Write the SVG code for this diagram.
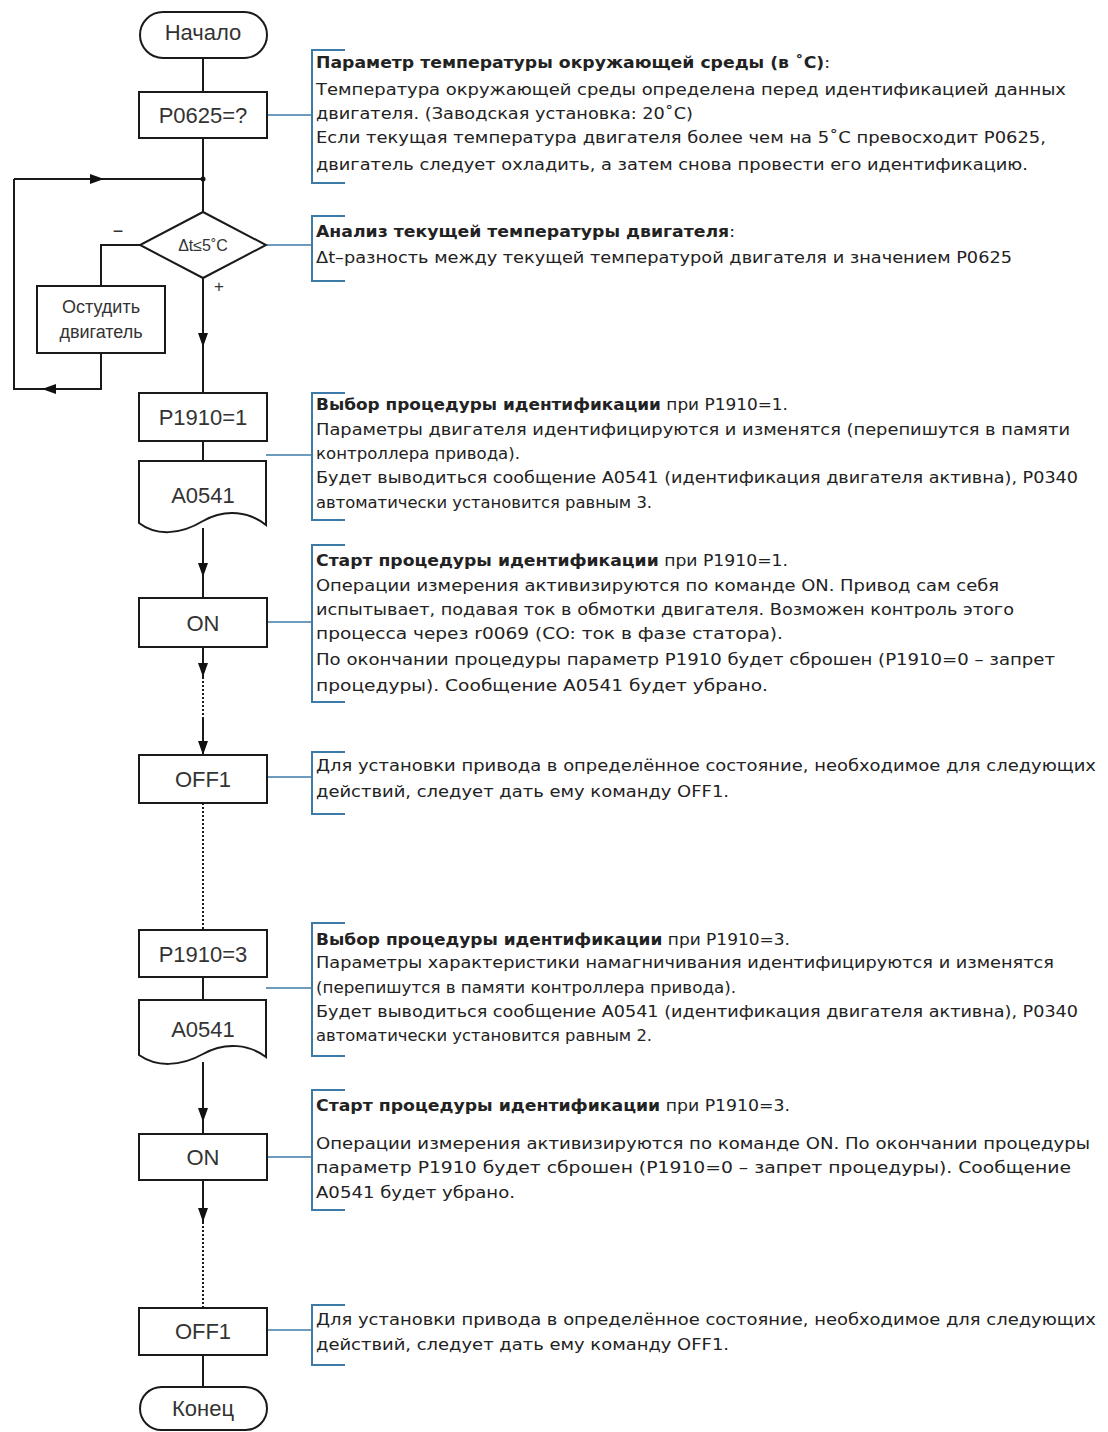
<svg xmlns="http://www.w3.org/2000/svg" width="1108" height="1432" viewBox="0 0 1108 1432">
<defs>
<marker id="arr" markerUnits="userSpaceOnUse" viewBox="0 0 14 10" refX="14" refY="5" markerWidth="14" markerHeight="10" orient="auto">
<path d="M0,0 L14,5 L0,10 Z" fill="#111"/>
</marker>
<style>
.box{fill:#fff;stroke:#1a1a1a;stroke-width:2}
.ln{fill:none;stroke:#1a1a1a;stroke-width:2}
.dot{fill:none;stroke:#1a1a1a;stroke-width:2;stroke-dasharray:2 2}
.lbl{font-family:"Liberation Sans",Arial,sans-serif;font-size:22px;fill:#333;text-anchor:middle}
.sm{font-size:18px}
.br{fill:none;stroke:#3c7aa8;stroke-width:2}
.cl{fill:none;stroke:#3c7aa8;stroke-width:1.5}
.t{font-family:"DejaVu Sans",Verdana,sans-serif;font-size:15px;fill:#222}
.b{font-weight:bold}
</style>
</defs>
<rect width="1108" height="1432" fill="#fff"/>

<g id="connectors">
<path class="ln" d="M203,58 V92"/>
<path class="ln" d="M203,138 V212"/>
<path class="ln" d="M14,179 H104" marker-end="url(#arr)"/>
<path class="ln" d="M104,179 H203"/>
<circle cx="203" cy="179" r="2.5" fill="#111"/>
<path class="ln" d="M140,245 H101 V286"/>
<path class="ln" d="M101,353 V389 H42" marker-end="url(#arr)"/>
<path class="ln" d="M42,389 H14 V179"/>
<path class="ln" d="M203,278 V347" marker-end="url(#arr)"/>
<path class="ln" d="M203,347 V393"/>
<path class="ln" d="M203,441 V461"/>
<path class="ln" d="M203,528 V577" marker-end="url(#arr)"/>
<path class="ln" d="M203,577 V598"/>
<path class="ln" d="M203,647 V677" marker-end="url(#arr)"/>
<path class="dot" d="M203,677 V717"/>
<path class="ln" d="M203,717 V755" marker-end="url(#arr)"/>
<path class="dot" d="M203,803 V930"/>
<path class="ln" d="M203,977 V1000"/>
<path class="ln" d="M203,1062 V1122" marker-end="url(#arr)"/>
<path class="ln" d="M203,1122 V1134"/>
<path class="ln" d="M203,1180 V1222" marker-end="url(#arr)"/>
<path class="dot" d="M203,1222 V1308"/>
<path class="ln" d="M203,1355 V1387"/>
<text class="lbl" x="118" y="237" style="font-size:18px">−</text>
<text class="lbl" x="219" y="292" style="font-size:17px">+</text>
<path class="cl" d="M267,115 H312"/>
<path class="cl" d="M267,245 H312"/>
<path class="cl" d="M266,455 H312"/>
<path class="cl" d="M267,622 H312"/>
<path class="cl" d="M267,777 H312"/>
<path class="cl" d="M266,988 H312"/>
<path class="cl" d="M267,1157 H312"/>
<path class="cl" d="M267,1330 H312"/>
</g>

<g id="start"><rect class="box" x="140" y="12" width="127" height="46" rx="23"/><text class="lbl" x="203" y="40">Начало</text></g>
<g id="p0625"><rect class="box" x="139" y="92" width="128" height="46"/><text class="lbl" x="203" y="123">P0625=?</text></g>
<g id="decision"><polygon class="box" points="203,212 266,245 203,278 140,245"/><text class="lbl" x="203" y="251" style="font-size:16px">Δt≤5˚C</text></g>
<g id="cool"><rect class="box" x="37" y="286" width="128" height="67"/><text class="lbl sm" x="101" y="313">Остудить</text><text class="lbl sm" x="101" y="338">двигатель</text></g>
<g id="p1910_1"><rect class="box" x="139" y="393" width="128" height="48"/><text class="lbl" x="203" y="425">P1910=1</text></g>
<g id="a0541_1"><path class="box" d="M139,461 H266 V525 C250,512 226,508 203,521 C180,535 156,536 139,523 Z"/><text class="lbl" x="203" y="503">A0541</text></g>
<g id="on1"><rect class="box" x="139" y="598" width="128" height="49"/><text class="lbl" x="203" y="631">ON</text></g>
<g id="off1_1"><rect class="box" x="139" y="755" width="128" height="48"/><text class="lbl" x="203" y="787">OFF1</text></g>
<g id="p1910_3"><rect class="box" x="139" y="930" width="128" height="47"/><text class="lbl" x="203" y="962">P1910=3</text></g>
<g id="a0541_2"><path class="box" d="M139,1000 H266 V1057 C250,1045 226,1041 203,1054 C180,1067 156,1067 139,1055 Z"/><text class="lbl" x="203" y="1037">A0541</text></g>
<g id="on2"><rect class="box" x="139" y="1134" width="128" height="46"/><text class="lbl" x="203" y="1165">ON</text></g>
<g id="off1_2"><rect class="box" x="139" y="1308" width="128" height="47"/><text class="lbl" x="203" y="1339">OFF1</text></g>
<g id="end"><rect class="box" x="140" y="1387" width="127" height="43" rx="21.5"/><text class="lbl" x="203" y="1416">Конец</text></g>

<g id="note1">
<path class="br" d="M345,50 H312 V183 H345"/>
<text class="t" x="316" y="68" textLength="514" lengthAdjust="spacingAndGlyphs"><tspan class="b">Параметр температуры окружающей среды (в ˚C)</tspan>:</text>
<text class="t" x="316" y="95" textLength="750" lengthAdjust="spacingAndGlyphs">Температура  окружающей среды определена перед идентификацией данных</text>
<text class="t" x="316" y="119" textLength="377" lengthAdjust="spacingAndGlyphs">двигателя. (Заводская установка: 20˚C)</text>
<text class="t" x="316" y="143" textLength="730" lengthAdjust="spacingAndGlyphs">Если текущая температура двигателя более чем на 5˚C превосходит P0625,</text>
<text class="t" x="316" y="170" textLength="712" lengthAdjust="spacingAndGlyphs">двигатель следует охладить, а затем снова провести его идентификацию.</text>
</g>
<g id="note2">
<path class="br" d="M345,216 H312 V281 H345"/>
<text class="t" x="316" y="237" textLength="419" lengthAdjust="spacingAndGlyphs"><tspan class="b">Анализ текущей температуры двигателя</tspan>:</text>
<text class="t" x="316" y="263" textLength="696" lengthAdjust="spacingAndGlyphs">Δt–разность между текущей температурой двигателя и значением P0625</text>
</g>
<g id="note3">
<path class="br" d="M345,393 H312 V520 H345"/>
<text class="t" x="316" y="410" textLength="472" lengthAdjust="spacingAndGlyphs"><tspan class="b">Выбор процедуры идентификации</tspan> при P1910=1.</text>
<text class="t" x="316" y="435" textLength="754" lengthAdjust="spacingAndGlyphs">Параметры двигателя идентифицируются и изменятся (перепишутся в памяти</text>
<text class="t" x="316" y="459" textLength="204" lengthAdjust="spacingAndGlyphs">контроллера привода).</text>
<text class="t" x="316" y="483" textLength="762" lengthAdjust="spacingAndGlyphs">Будет выводиться сообщение A0541 (идентификация двигателя активна), P0340</text>
<text class="t" x="316" y="508" textLength="336" lengthAdjust="spacingAndGlyphs">автоматически установится равным 3.</text>
</g>
<g id="note4">
<path class="br" d="M345,545 H312 V702 H345"/>
<text class="t" x="316" y="566" textLength="472" lengthAdjust="spacingAndGlyphs"><tspan class="b">Старт процедуры идентификации</tspan> при P1910=1.</text>
<text class="t" x="316" y="591" textLength="683" lengthAdjust="spacingAndGlyphs">Операции измерения активизируются по команде ON. Привод сам себя</text>
<text class="t" x="316" y="615" textLength="698" lengthAdjust="spacingAndGlyphs">испытывает, подавая ток в обмотки двигателя. Возможен контроль этого</text>
<text class="t" x="316" y="639" textLength="467" lengthAdjust="spacingAndGlyphs">процесса через r0069 (CO: ток в фазе статора).</text>
<text class="t" x="316" y="665" textLength="739" lengthAdjust="spacingAndGlyphs">По окончании процедуры параметр P1910 будет сброшен (P1910=0 – запрет</text>
<text class="t" x="316" y="691" textLength="452" lengthAdjust="spacingAndGlyphs">процедуры). Сообщение A0541 будет убрано.</text>
</g>
<g id="note5">
<path class="br" d="M345,752 H312 V814 H345"/>
<text class="t" x="316" y="771" textLength="780" lengthAdjust="spacingAndGlyphs">Для установки привода в определённое состояние, необходимое для следующих</text>
<text class="t" x="316" y="797" textLength="413" lengthAdjust="spacingAndGlyphs">действий, следует дать ему команду OFF1.</text>
</g>
<g id="note6">
<path class="br" d="M345,923 H312 V1056 H345"/>
<text class="t" x="316" y="945" textLength="474" lengthAdjust="spacingAndGlyphs"><tspan class="b">Выбор процедуры идентификации</tspan> при P1910=3.</text>
<text class="t" x="316" y="968" textLength="738" lengthAdjust="spacingAndGlyphs">Параметры характеристики намагничивания идентифицируются и изменятся</text>
<text class="t" x="316" y="993" textLength="420" lengthAdjust="spacingAndGlyphs">(перепишутся в памяти контроллера привода).</text>
<text class="t" x="316" y="1017" textLength="762" lengthAdjust="spacingAndGlyphs">Будет выводиться сообщение A0541 (идентификация двигателя активна), P0340</text>
<text class="t" x="316" y="1041" textLength="336" lengthAdjust="spacingAndGlyphs">автоматически установится равным 2.</text>
</g>
<g id="note7">
<path class="br" d="M345,1090 H312 V1210 H345"/>
<text class="t" x="316" y="1111" textLength="474" lengthAdjust="spacingAndGlyphs"><tspan class="b">Старт процедуры идентификации</tspan> при P1910=3.</text>
<text class="t" x="316" y="1149" textLength="774" lengthAdjust="spacingAndGlyphs">Операции измерения активизируются по команде ON. По окончании процедуры</text>
<text class="t" x="316" y="1173" textLength="755" lengthAdjust="spacingAndGlyphs">параметр P1910 будет сброшен (P1910=0 – запрет процедуры). Сообщение</text>
<text class="t" x="316" y="1198" textLength="199" lengthAdjust="spacingAndGlyphs">A0541 будет убрано.</text>
</g>
<g id="note8">
<path class="br" d="M345,1305 H312 V1365 H345"/>
<text class="t" x="316" y="1325" textLength="780" lengthAdjust="spacingAndGlyphs">Для установки привода в определённое состояние, необходимое для следующих</text>
<text class="t" x="316" y="1350" textLength="413" lengthAdjust="spacingAndGlyphs">действий, следует дать ему команду OFF1.</text>
</g>
</svg>
